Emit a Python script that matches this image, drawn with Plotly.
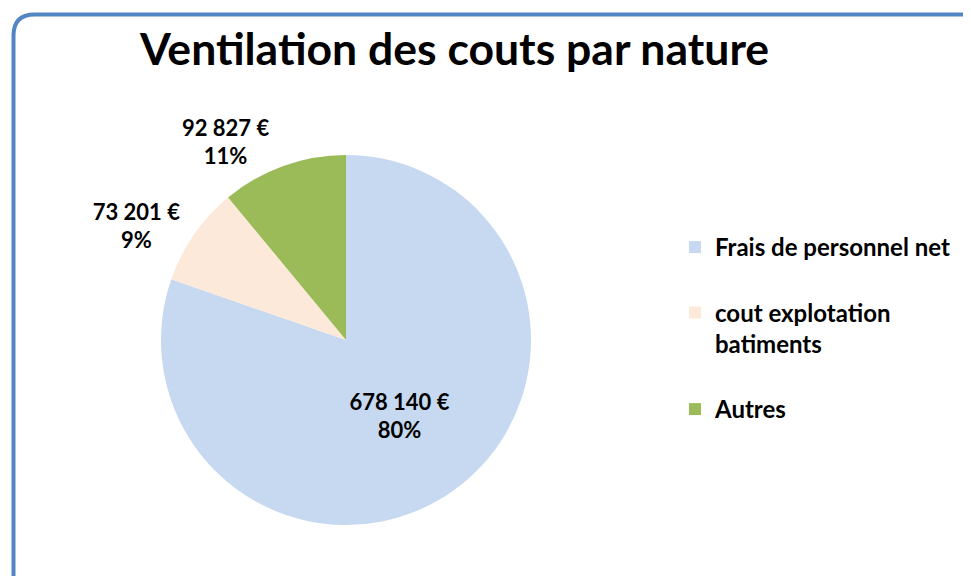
import plotly.graph_objects as go

categories = ["Frais de personnel net", "cout explotation batiments", "Autres"]
legend_labels = ["Frais de personnel net<br> ", "cout explotation<br>batiments<br> ", "Autres"]
values = [678140, 73201, 92827]
colors = ["#C6D9F1", "#FDE9D9", "#9BBB59"]
title_text = "Ventilation des couts par nature"

W, H = 971, 576
OFF = 8  # page body margin
cx, cy, r = 346 - OFF, 340 - OFF, 185

fig = go.Figure()
fig.add_trace(go.Pie(
    labels=legend_labels,
    values=values,
    customdata=categories,
    marker=dict(colors=colors, line=dict(width=0)),
    sort=False,
    direction="clockwise",
    rotation=0,
    textposition=["inside", "outside", "outside"],
    insidetextorientation="horizontal",
    texttemplate="%{value:,.0f} €<br>%{percent:.0%}",
    textfont=dict(family="Lato", size=22, color="black", weight="bold"),
    outsidetextfont=dict(family="Lato", size=22, color="black", weight="bold"),
    insidetextfont=dict(family="Lato", size=22, color="black", weight="bold"),
    domain=dict(x=[(cx - r) / W, (cx + r) / W], y=[(H - cy - r) / H, (H - cy + r) / H]),
    hoverinfo="skip",
))

# rounded border
x0, x1 = (13.5 - OFF) / W, (990 - OFF) / W
y0, y1 = 1 - 600 / H, 1 - (14.5 - OFF) / H
rx, ry = 21 / W, 21 / H
path = (f"M {x0},{y0} L {x0},{y1 - ry} Q {x0},{y1} {x0 + rx},{y1} "
        f"L {x1 - rx},{y1} Q {x1},{y1} {x1},{y1 - ry} L {x1},{y0}")

fig.update_layout(
    width=W, height=H,
    margin=dict(l=0, r=0, t=0, b=0),
    paper_bgcolor="white",
    plot_bgcolor="white",
    separators=", ",
    font=dict(family="Lato", color="black"),
    shapes=[dict(type="path", xref="paper", yref="paper", path=path,
                 line=dict(color="#5285C4", width=4))],
    annotations=[dict(text=title_text, x=(454 - OFF) / W, y=1 - (47 - OFF) / H,
                      xref="paper", yref="paper",
                      xanchor="center", yanchor="middle", showarrow=False,
                      font=dict(family="Lato", size=44.5, color="black", weight="bold"))],
    showlegend=True,
    legend=dict(x=(675 - OFF) / W, y=1 - (225 - OFF) / H, xanchor="left", yanchor="top",
                valign="top", font=dict(family="Lato", size=24, color="black", weight="bold"),
                bgcolor="rgba(0,0,0,0)"),
)

fig.write_html("out.html")
